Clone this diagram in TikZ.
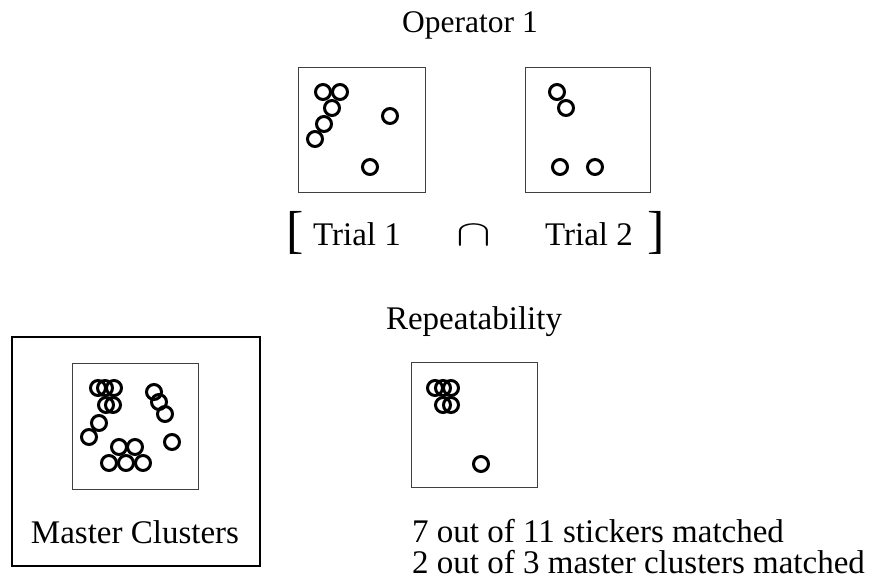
\documentclass[tikz,border=0pt]{standalone}
\usepackage{fontspec}
\setmainfont{Liberation Serif}
\tikzset{
	panel/.style={draw=black!75,line width=1pt,inner sep=0pt},
	sticker/.style={circle,draw,line width=3pt,minimum size=15pt,inner sep=0pt},
	label/.style={font=\fontsize{33}{38}\selectfont,inner sep=0pt}
}
\begin{document}
\begin{tikzpicture}[x=1pt,y=-1pt]
	\useasboundingbox (0,0) rectangle (872,586);
	
	% operator 1, two trials
	\node[label,font=\fontsize{31.5}{36}\selectfont,anchor=base] (op) at (470,33) {Operator 1};
	\node[panel,minimum width=127,minimum height=125] (trialA) at (361.5,129.5) {};
	\node[panel,minimum width=125,minimum height=125] (trialB) at (587.5,129.5) {};
	\foreach \x/\y [count=\i] in {323/92,340/92,332/108,324/124,315/139,390/116,370/167}
		\node[sticker] (a\i) at (\x,\y) {};
	\foreach \x/\y [count=\i] in {557/92,566/108,560/167,595/167}
		\node[sticker] (b\i) at (\x,\y) {};
	
	\node[label,font=\fontsize{52}{56}\selectfont,anchor=base] (lbr) at (295,247) {[};
	\node[label,anchor=base] (tA) at (357,245) {Trial 1};
	\node[label,anchor=base] (cap) at (474,245) {\scalebox{2.1}[1.47]{$\cap$}};
	\node[label,anchor=base] (tB) at (589,245) {Trial 2};
	\node[label,font=\fontsize{52}{56}\selectfont,anchor=base] (rbr) at (656,247) {]};
	
	% master clusters
	\node[draw,line width=1.2pt,minimum width=248,minimum height=229,inner sep=0pt] (master) at (136,451.5) {};
	\node[panel,minimum width=126,minimum height=126] (mbox) at (135,426) {};
	\foreach \x/\y [count=\i] in {98/388,105/388,114/388,106/405,113/405,99/423,89/437,
		154/392,159/402,165/414,172/442,119/447,135/447,109/463,126/463,143/463}
		\node[sticker] (m\i) at (\x,\y) {};
	\node[label,anchor=base] (mlab) at (135,543) {Master Clusters};
	
	% repeatability
	\node[label,anchor=base] (rep) at (474,329) {Repeatability};
	\node[panel,minimum width=126,minimum height=125] (rbox) at (474,424.5) {};
	\foreach \x/\y [count=\i] in {435/388,443/388,451/388,443/405,451/405,481/464}
		\node[sticker] (r\i) at (\x,\y) {};
	\node[label,anchor=base west] (res1) at (412,542) {7 out of 11 stickers matched};
	\node[label,anchor=base west] (res2) at (412,573) {2 out of 3 master clusters matched};
\end{tikzpicture}
\end{document}
